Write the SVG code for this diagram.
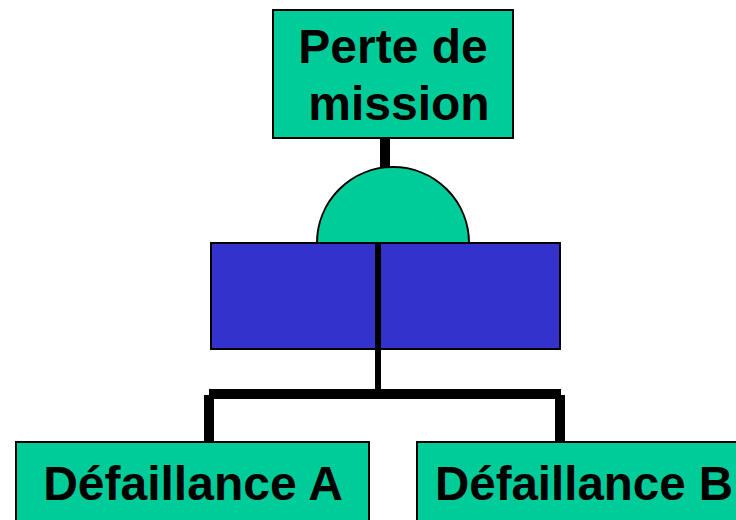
<svg xmlns="http://www.w3.org/2000/svg" width="736" height="520" viewBox="0 0 736 520">
<style>
.node{fill:#00CC99;stroke:#000;stroke-width:2}
.gate{fill:#00CC99;stroke:#000;stroke-width:2}
.blue{fill:#3333CC;stroke:#000;stroke-width:2}
.lbl{font-family:"Liberation Sans",Arial,sans-serif;font-weight:bold;font-size:48px;fill:#000}
.wire{stroke:#000;fill:none}
</style>
<rect width="736" height="520" fill="#fff"/>
<g id="top">
<rect class="node" x="273" y="10" width="240" height="128"/>
<text class="lbl" x="393" y="63" text-anchor="middle">Perte de</text>
<text class="lbl" x="399" y="120" text-anchor="middle">mission</text>
</g>
<g id="gate">
<path class="gate" d="M317,243 A76,76 0 0 1 469,243 Z"/>
<rect class="blue" x="211" y="243" width="349" height="106"/>
</g>
<g id="failA">
<rect class="node" x="16" y="442" width="353" height="90"/>
<text class="lbl" x="193" y="500" text-anchor="middle">Défaillance A</text>
</g>
<g id="failB">
<rect class="node" x="417" y="442" width="353" height="90"/>
<text class="lbl" x="435" y="500" textLength="298" lengthAdjust="spacingAndGlyphs">Défaillance B</text>
</g>
<g id="connectors">
<line class="wire" x1="385" y1="138" x2="385" y2="168" stroke-width="10"/>
<line class="wire" x1="378" y1="243" x2="378" y2="392" stroke-width="6"/>
<line class="wire" x1="209" y1="394" x2="561" y2="394" stroke-width="10"/>
<line class="wire" x1="209" y1="395" x2="209" y2="442" stroke-width="10"/>
<line class="wire" x1="560" y1="395" x2="560" y2="442" stroke-width="10"/>
</g>
</svg>
